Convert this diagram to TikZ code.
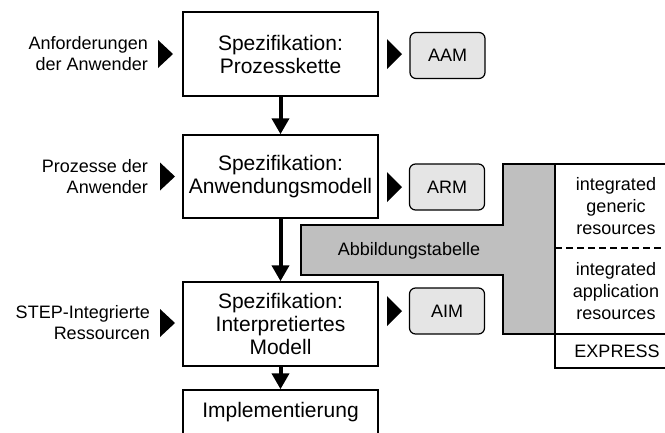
\documentclass[tikz,border=0pt]{standalone}
\usepackage{fontspec}
\setmainfont{Liberation Sans}
\usetikzlibrary{arrows.meta}

\begin{document}
\begin{tikzpicture}[x=1pt,y=-1pt,
  stage/.style={draw, line width=1.5pt, minimum width=195pt, minimum height=84pt,
    inner sep=0pt, align=center, font=\fontsize{21}{23}\selectfont},
  model/.style={draw, line width=1.2pt, rounded corners=6pt, fill=black!10,
    minimum width=75pt, minimum height=46pt, inner sep=0pt,
    font=\fontsize{18}{21}\selectfont},
  input/.style={anchor=east, align=right, inner sep=0pt,
    font=\fontsize{18}{21}\selectfont},
  celltext/.style={align=center, inner sep=0pt, font=\fontsize{18}{22}\selectfont},
  flow/.style={line width=4pt, -{Triangle[width=17pt,length=16pt]}},
  marker/.style={fill=black},
  mapping/.style={fill=black!25, draw, line width=1.2pt},
  tableline/.style={line width=1.5pt}
]
\useasboundingbox (0,0) rectangle (665,432);
\clip (0,0) rectangle (665,432);

% development stages
\node[stage] (s1) at (280.5,54) {Spezifikation:\\Prozesskette};
\node[stage, minimum height=83pt] (s2) at (280.5,176.5) {Spezifikation:\\Anwendungsmodell};
\node[stage] (s3) at (280.5,324) {Spezifikation:\\Interpretiertes\\Modell};
\node[stage, minimum height=44pt] (s4) at (280.5,412) {Implementierung};

\draw[flow] (s1) -- (s2);
\draw[flow] (s2) -- (s3);
\draw[flow] (s3) -- (s4);

% inputs on the left
\node[input] (in1) at (148,54) {Anforderungen\\der Anwender};
\node[input] (in2) at (148,176.5) {Prozesse der\\Anwender};
\node[input] (in3) at (150,323) {STEP-Integrierte\\Ressourcen};

\fill[marker] (158,40) -- (173,54) -- (158,68) -- cycle;
\fill[marker] (160,162.5) -- (175,176.5) -- (160,190.5) -- cycle;
\fill[marker] (160,309) -- (175,323) -- (160,337) -- cycle;

% resulting models on the right
\node[model] (aam) at (447.5,55.5) {AAM};
\node[model] (arm) at (447,187) {ARM};
\node[model] (aim) at (447,311) {AIM};

\fill[marker] (387,39) -- (402,54) -- (387,69) -- cycle;
\fill[marker] (387,172) -- (402,187) -- (387,202) -- cycle;
\fill[marker] (387,296) -- (402,311) -- (387,326) -- cycle;

% mapping table
\filldraw[mapping] (555,164) -- (503,164) -- (503,225) -- (301,225) -- (301,275)
  -- (503,275) -- (503,334) -- (555,334);
\node[celltext] (abb) at (409,251) {Abbildungstabelle};

% integrated resources
\draw[tableline] (670,164) -- (555,164) -- (555,368) -- (670,368);
\draw[tableline] (555,334) -- (670,334);
\draw[line width=2.5pt, dash pattern=on 7pt off 4pt] (555,248) -- (670,248);

\node[celltext] (gen) at (616,206) {integrated\\generic\\resources};
\node[celltext] (app) at (616,291) {integrated\\application\\resources};
\node[celltext] (exp) at (617,351) {EXPRESS};
\end{tikzpicture}
\end{document}
